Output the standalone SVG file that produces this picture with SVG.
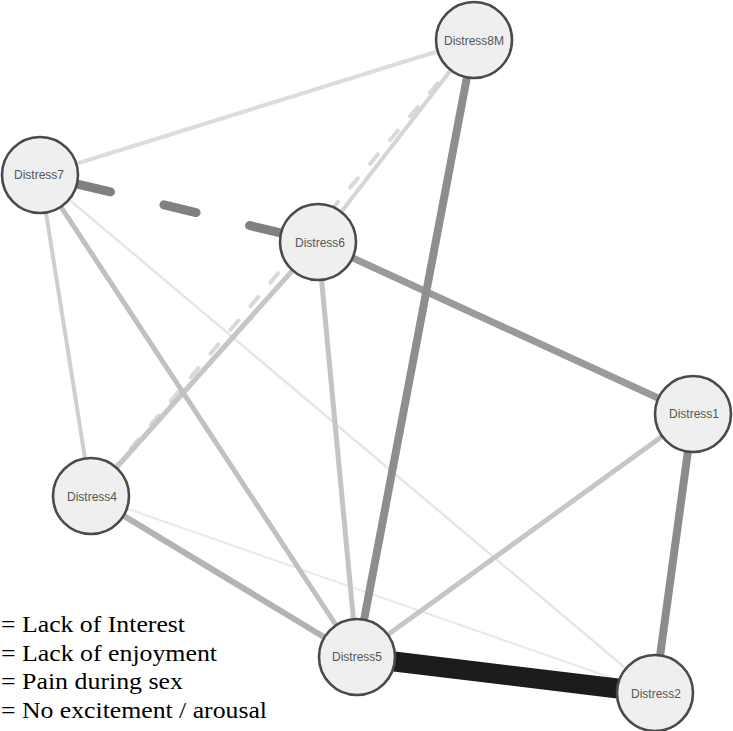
<svg xmlns="http://www.w3.org/2000/svg" width="733" height="731" viewBox="0 0 733 731">
<style>
.e{fill:none;stroke-linecap:round}
.n circle{fill:#efefef;stroke:#4a4a4a;stroke-width:2.6}
.n text{font-family:"Liberation Sans",Arial,sans-serif;font-size:12px;fill:#555;text-anchor:middle;dominant-baseline:central}
.lg{font-family:"Liberation Serif","Times New Roman",serif;font-size:23.5px;fill:#000}
</style>
<rect width="733" height="731" fill="#fff"/>
<g id="connectors">
<line class="e" x1="40" y1="175" x2="655" y2="693" stroke="#e6e6e6" stroke-width="2.5"/>
<line class="e" x1="91" y1="496" x2="655" y2="693" stroke="#e9e9e9" stroke-width="2"/>
<line class="e" x1="40" y1="175" x2="474" y2="40" stroke="#dcdcdc" stroke-width="4"/>
<line class="e" x1="91" y1="496" x2="474" y2="40" stroke="#d9d9d9" stroke-width="4" stroke-dasharray="12 19" stroke-linecap="butt"/>
<line class="e" x1="318" y1="242" x2="474" y2="40" stroke="#d5d5d5" stroke-width="4"/>
<line class="e" x1="40" y1="175" x2="91" y2="496" stroke="#cfcfcf" stroke-width="4"/>
<line class="e" x1="91" y1="496" x2="318" y2="242" stroke="#c6c6c6" stroke-width="5"/>
<line class="e" x1="40" y1="175" x2="357" y2="657" stroke="#c0c0c0" stroke-width="5"/>
<line class="e" x1="318" y1="242" x2="357" y2="657" stroke="#c4c4c4" stroke-width="5"/>
<line class="e" x1="693" y1="414" x2="357" y2="657" stroke="#c6c6c6" stroke-width="5"/>
<line class="e" x1="91" y1="496" x2="357" y2="657" stroke="#b3b3b3" stroke-width="6"/>
<line class="e" x1="318" y1="242" x2="693" y2="414" stroke="#9a9a9a" stroke-width="7"/>
<line class="e" x1="474" y1="40" x2="357" y2="657" stroke="#8e8e8e" stroke-width="8"/>
<line class="e" x1="693" y1="414" x2="655" y2="693" stroke="#8c8c8c" stroke-width="8"/>
<line class="e" x1="40" y1="175" x2="318" y2="242" stroke="#808080" stroke-width="9" stroke-dasharray="33 55" stroke-dashoffset="48.5"/>
<line class="e" x1="357" y1="657" x2="655" y2="693" stroke="#1c1c1c" stroke-width="20" stroke-linecap="butt"/>
</g>
<g id="Distress8M" class="n"><circle cx="474" cy="40" r="38"/><text x="474" y="41">Distress8M</text></g>
<g id="Distress7" class="n"><circle cx="40" cy="175" r="38"/><text x="39" y="175">Distress7</text></g>
<g id="Distress6" class="n"><circle cx="318" cy="242" r="38"/><text x="320" y="243">Distress6</text></g>
<g id="Distress1" class="n"><circle cx="693" cy="414" r="38"/><text x="694" y="414">Distress1</text></g>
<g id="Distress4" class="n"><circle cx="91" cy="496" r="38"/><text x="92" y="497">Distress4</text></g>
<g id="Distress5" class="n"><circle cx="357" cy="657" r="38"/><text x="357" y="657">Distress5</text></g>
<g id="Distress2" class="n"><circle cx="655" cy="693" r="38"/><text x="656" y="694">Distress2</text></g>
<g id="legend">
<text class="lg" x="1" y="632" textLength="184" lengthAdjust="spacingAndGlyphs">= Lack of Interest</text>
<text class="lg" x="1" y="660.5" textLength="216" lengthAdjust="spacingAndGlyphs">= Lack of enjoyment</text>
<text class="lg" x="1" y="689" textLength="182" lengthAdjust="spacingAndGlyphs">= Pain during sex</text>
<text class="lg" x="1" y="717.5" textLength="266" lengthAdjust="spacingAndGlyphs">= No excitement / arousal</text>
</g>
</svg>
